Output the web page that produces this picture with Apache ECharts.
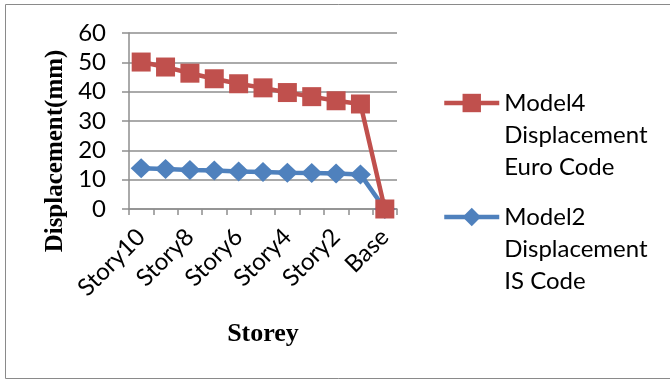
<!DOCTYPE html>
<html>
<head>
<meta charset="utf-8">
<script src="https://cdn.jsdelivr.net/npm/echarts@6/dist/echarts.min.js"></script>
<style>
  html, body { margin: 0; padding: 0; background: #ffffff; }
  #chart { width: 670px; height: 380px; }
</style>
</head>
<body>
<div id="chart"></div>
<script>
// Storey levels, top of the building first
const storeys = ['Story10', 'Story9', 'Story8', 'Story7', 'Story6', 'Story5', 'Story4', 'Story3', 'Story2', 'Story1', 'Base'];

// Lateral displacement per storey (mm)
const euroDisp = [50.1, 48.4, 46.3, 44.4, 42.7, 41.3, 39.7, 38.3, 36.9, 35.8, 0];
const isDisp = [13.9, 13.6, 13.3, 13.1, 12.8, 12.6, 12.4, 12.3, 12.1, 11.8, 0];

const euroName = 'Model4 Displacement Euro Code';
const isName = 'Model2 Displacement IS Code';
const euroLines = ['Model4', 'Displacement', 'Euro Code'];
const isLines = ['Model2', 'Displacement', 'IS Code'];

const yTicks = { min: 0, max: 60, interval: 10 };

const RED = '#c0504d';
const BLUE = '#4f81bd';
const GRID = '#8e8e8e';
const FONT = 'Lato, "Open Sans", sans-serif';
const SERIF = '"Liberation Serif", "Times New Roman", serif';

const chart = echarts.init(document.getElementById('chart'), null, { renderer: 'canvas' });

// One legend block per series: the two leading blank lines keep the
// icon level with the first line of the wrapped name.
function legendFor(name, lines, top) {
  return {
    data: [name],
    orient: 'vertical',
    left: 442,
    top: top,
    padding: 0,
    itemWidth: 55,
    itemHeight: 23,
    itemGap: 0,
    selectedMode: false,
    lineStyle: { width: 4.5 },
    formatter: () => ['', ''].concat(lines).join('\n'),
    textStyle: {
      fontFamily: FONT,
      fontSize: 24,
      color: '#000',
      lineHeight: 32
    }
  };
}

chart.setOption({
  animation: false,
  backgroundColor: '#ffffff',
  grid: { left: 129, right: 273, top: 33, bottom: 171, containLabel: false },
  legend: [
    legendFor(euroName, euroLines, 23),
    legendFor(isName, isLines, 137)
  ],
  graphic: [
    {
      type: 'rect',
      shape: { x: 5.5, y: 4.5, width: 670, height: 374 },
      style: { fill: 'none', stroke: '#8a8a8a', lineWidth: 1 },
      silent: true,
      z: -1
    },
    {
      type: 'text',
      x: 56,
      y: 151,
      rotation: Math.PI / 2,
      style: {
        text: 'Displacement(mm)',
        font: 'bold 25px "Liberation Serif", "Times New Roman", serif',
        fill: '#000',
        align: 'center',
        verticalAlign: 'middle'
      }
    }
  ],
  xAxis: {
    type: 'category',
    data: storeys,
    boundaryGap: true,
    name: 'Storey',
    nameLocation: 'middle',
    nameGap: 112,
    nameTextStyle: {
      fontFamily: SERIF,
      fontWeight: 'bold',
      fontSize: 26,
      color: '#000'
    },
    axisLine: { lineStyle: { color: GRID, width: 1.5 } },
    axisTick: { show: true, alignWithLabel: false, interval: 0, length: 6, lineStyle: { color: GRID, width: 1.5 } },
    axisLabel: {
      interval: 1,
      rotate: 45,
      margin: 24,
      fontFamily: FONT,
      fontSize: 24,
      color: '#000'
    },
    splitLine: { show: false }
  },
  yAxis: {
    type: 'value',
    min: yTicks.min,
    max: yTicks.max,
    interval: yTicks.interval,
    axisLine: { show: true, lineStyle: { color: GRID, width: 1.5 } },
    axisTick: { show: true, length: 7, lineStyle: { color: GRID, width: 1.5 } },
    axisLabel: {
      margin: 23,
      fontFamily: FONT,
      fontSize: 24,
      color: '#000'
    },
    splitLine: { show: true, lineStyle: { color: GRID, width: 1.5 } }
  },
  series: [
    {
      name: isName,
      type: 'line',
      data: isDisp,
      symbol: 'diamond',
      symbolSize: [21, 20],
      showAllSymbol: true,
      lineStyle: { color: BLUE, width: 4.5 },
      itemStyle: { color: BLUE },
      z: 2
    },
    {
      name: euroName,
      type: 'line',
      data: euroDisp,
      symbol: 'rect',
      symbolSize: 19,
      showAllSymbol: true,
      lineStyle: { color: RED, width: 4.5 },
      itemStyle: { color: RED, borderRadius: 2 },
      z: 3
    }
  ]
});
</script>
</body>
</html>
